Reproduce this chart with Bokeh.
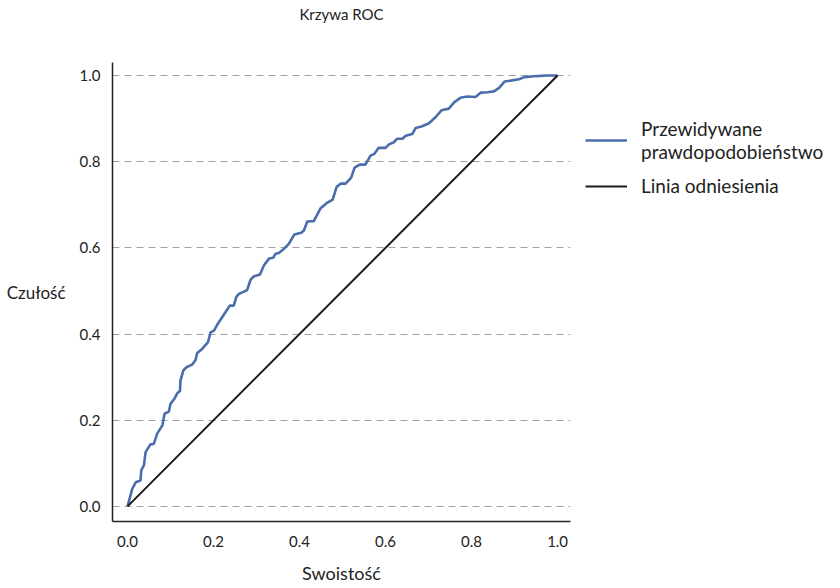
from bokeh.plotting import figure
from bokeh.models import Range1d, FixedTicker, PrintfTickFormatter, Legend, LegendItem, Title
from bokeh.embed import file_html
from bokeh.resources import INLINE

# ROC curve data as drawn
roc_x = [0.000, 0.011, 0.019, 0.030, 0.032, 0.038, 0.042, 0.053, 0.061, 0.069, 0.081, 0.086,
         0.096, 0.100, 0.109, 0.116, 0.122, 0.123, 0.130, 0.137, 0.150, 0.158, 0.162, 0.174,
         0.187, 0.193, 0.201, 0.210, 0.220, 0.228, 0.238, 0.247, 0.253, 0.259, 0.278, 0.286,
         0.294, 0.308, 0.317, 0.329, 0.339, 0.344, 0.352, 0.364, 0.375, 0.388, 0.404, 0.410,
         0.418, 0.433, 0.449, 0.462, 0.477, 0.486, 0.496, 0.507, 0.520, 0.528, 0.540, 0.553,
         0.565, 0.574, 0.584, 0.600, 0.608, 0.619, 0.627, 0.639, 0.647, 0.662, 0.670, 0.685,
         0.701, 0.716, 0.730, 0.747, 0.760, 0.774, 0.790, 0.809, 0.821, 0.837, 0.852, 0.864,
         0.877, 0.891, 0.910, 0.923, 0.945, 0.960, 0.974, 1.000]
roc_y = [0.000, 0.041, 0.056, 0.060, 0.084, 0.095, 0.126, 0.144, 0.145, 0.169, 0.188, 0.215,
         0.220, 0.238, 0.250, 0.263, 0.268, 0.292, 0.316, 0.323, 0.329, 0.339, 0.356, 0.366,
         0.381, 0.404, 0.408, 0.424, 0.439, 0.451, 0.466, 0.466, 0.486, 0.493, 0.502, 0.526,
         0.534, 0.538, 0.559, 0.575, 0.577, 0.586, 0.588, 0.598, 0.609, 0.631, 0.635, 0.640,
         0.661, 0.662, 0.692, 0.703, 0.712, 0.741, 0.749, 0.749, 0.763, 0.786, 0.793, 0.793,
         0.814, 0.818, 0.832, 0.832, 0.840, 0.845, 0.853, 0.853, 0.860, 0.864, 0.878, 0.882,
         0.889, 0.903, 0.919, 0.923, 0.938, 0.948, 0.951, 0.950, 0.960, 0.961, 0.963, 0.971,
         0.986, 0.988, 0.991, 0.996, 0.998, 0.999, 1.000, 1.000]
ref_x = [0.0, 1.0]
ref_y = [0.0, 1.0]
ticks = [0.0, 0.2, 0.4, 0.6, 0.8, 1.0]

FONT = "Lato"
TXT = "#222222"

p = figure(frame_width=458, frame_height=459, output_backend="svg", toolbar_location=None,
           x_range=Range1d(-0.035, 1.030), y_range=Range1d(-0.035, 1.030),
           min_border_left=112, min_border_right=262, min_border_top=62, min_border_bottom=59)
p.outline_line_color = None
p.background_fill_color = "white"
p.border_fill_color = "white"

p.title = Title(text="Krzywa ROC", align="center", text_font=FONT, text_font_size="15px",
                text_font_style="normal", text_color=TXT, standoff=4)
p.title_location = "above"
# empty spacer between title and plot area
p.add_layout(Title(text=" ", text_font=FONT, text_font_size="14px", standoff=19), "above")

for ax in (p.xaxis[0], p.yaxis[0]):
    ax.ticker = FixedTicker(ticks=ticks)
    ax.formatter = PrintfTickFormatter(format="%.1f")
    ax.major_tick_line_color = None
    ax.minor_tick_line_color = None
    ax.major_tick_out = 0
    ax.major_tick_in = 0
    ax.minor_tick_out = 0
    ax.minor_tick_in = 0
    ax.axis_line_color = "#222222"
    ax.axis_line_width = 1.5
    ax.major_label_text_font = FONT
    ax.major_label_text_font_size = "15px"
    ax.major_label_text_color = TXT
    ax.axis_label_text_font = FONT
    ax.axis_label_text_font_size = "18px"
    ax.axis_label_text_font_style = "normal"
    ax.axis_label_text_color = TXT

p.xaxis.axis_label = "Swoistość"
p.xaxis.major_label_standoff = 14
p.xaxis.axis_label_standoff = 12
p.yaxis.axis_label = "Czułość"
p.yaxis.axis_label_text_font_size = "17px"
p.yaxis.major_label_standoff = 12
p.yaxis.axis_label_standoff = 11
p.yaxis.axis_label_orientation = "horizontal"

p.xgrid.grid_line_color = None
p.ygrid.ticker = FixedTicker(ticks=ticks)
p.ygrid.grid_line_color = "#a0a0a0"
p.ygrid.grid_line_dash = "7 5"
p.ygrid.grid_line_width = 1.2

r_roc = p.line(roc_x, roc_y, line_color="#4A6DAD", line_width=2.6)
r_ref = p.line(ref_x, ref_y, line_color="#1a1a1a", line_width=2)

legend = Legend(items=[LegendItem(label="Przewidywane\nprawdopodobieństwo", renderers=[r_roc]),
                       LegendItem(label="Linia odniesienia", renderers=[r_ref])],
                location=(15, 324), padding=0, margin=0, spacing=11,
                glyph_width=42, glyph_height=20, label_standoff=14,
                label_text_font=FONT, label_text_font_size="19px", label_text_color=TXT,
                label_text_line_height=1.0,
                border_line_color=None, background_fill_alpha=0)
p.add_layout(legend, "right")

open("out.html", "w").write(file_html(p, INLINE))
